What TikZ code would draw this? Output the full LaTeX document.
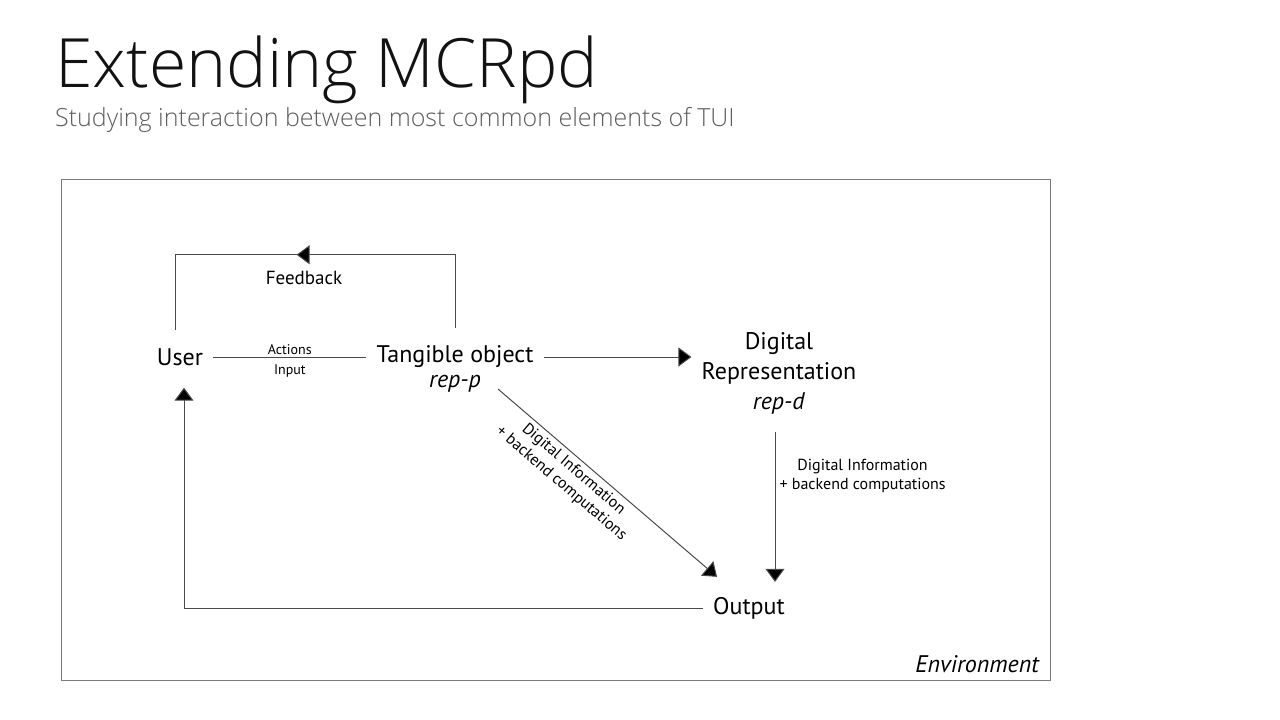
\documentclass[tikz,border=0pt]{standalone}
\usepackage{fontspec}
\setmainfont{PT Sans}
\newfontfamily\titlefont{Open Sans Light}
\usetikzlibrary{arrows.meta,calc,decorations.markings}

\definecolor{subgray}{HTML}{5F5F5F}
\definecolor{linegray}{HTML}{4A4A4A}
\definecolor{framegray}{HTML}{7A7A7A}

\tikzset{
  tip/.tip={Triangle[length=13pt,width=19pt]},
  conn/.style={draw=linegray, line width=1pt},
  arr/.style={conn, -{tip[fill=black]}},
  item/.style={font=\fontsize{24}{28}\selectfont, inner sep=10pt, text=black},
  small/.style={font=\fontsize{14}{16}\selectfont, inner sep=3pt, text=black},
  info/.style={font=\fontsize{16}{19}\selectfont, align=center, inner sep=4pt, text=black},
}

\begin{document}
\begin{tikzpicture}[x=1pt,y=-1pt]
  \useasboundingbox (0,0) rectangle (1280,720);
  \fill[white] (0,0) rectangle (1280,720);

  % heading
  \node[anchor=base west, inner sep=0pt, font=\titlefont\fontsize{68}{70}\selectfont, text=black!93]
    (title) at (55,87) {Extending MCRpd};
  \node[anchor=base west, inner sep=0pt, font=\titlefont\fontsize{25}{28}\selectfont, text=subgray]
    (subtitle) at (55,126) {Studying interaction between most common elements of TUI};

  % environment frame
  \draw[framegray, line width=1pt] (61,179) rectangle (1050,680);
  \node[item, anchor=base east, font=\itshape\fontsize{24}{26}\selectfont, inner sep=0pt]
    (env) at (1039,672) {Environment};

  % elements
  \node[item] (user) at (180,357) {User};
  \node[item] (tang) at (455,357) {Tangible object};
  \node[item, font=\itshape\fontsize{24}{28}\selectfont] (repp) at (455,384) {rep-p};
  \node[item, align=center, font=\fontsize{24}{30}\selectfont] (digi) at (779,373)
    {Digital\\Representation\\\textit{rep-d}};
  \node[item] (out) at (749,608) {Output};

  % user <-> tangible object
  \draw[conn] (user.east) -- (tang.west)
    node[small, midway, above, inner sep=2pt] (act) {Actions}
    node[small, midway, below, inner sep=7pt] (inp) {Input};

  % feedback loop
  \draw[conn, postaction=decorate,
        decoration={markings, mark=at position 0.54 with {\arrow{tip[fill=black]}}}]
    ([yshift=8pt]tang.north) -- ++(0,-73) -| ([xshift=-5pt,yshift=8pt]user.north);
  \node[small, font=\fontsize{19}{22}\selectfont] (fb) at (304,278) {Feedback};

  % tangible object -> digital representation
  \draw[arr] (tang.east) -- (tang.east -| digi.west);

  % digital representation -> output
  \draw[arr] ([xshift=-4pt,yshift=-8pt]digi.south) -- ([xshift=26pt,yshift=5pt]out.north)
    node[info, pos=0.29, right] (dinfo) {Digital Information\\+ backend computations};

  % tangible object -> output (diagonal)
  \draw[arr] ([xshift=7pt,yshift=-5pt]repp.east) -- ([xshift=14pt,yshift=10pt]out.north west)
    node[info, pos=0.38, sloped, below] (tinfo) {Digital Information\\+ backend computations};

  % output -> user
  \draw[arr] (out.west) -| ([xshift=4pt,yshift=-12pt]user.south);
\end{tikzpicture}
\end{document}
